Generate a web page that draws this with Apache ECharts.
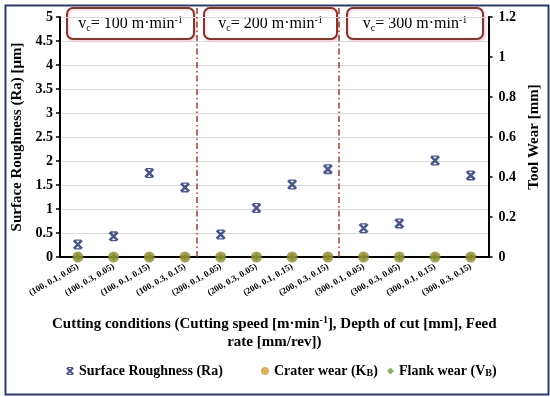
<!DOCTYPE html>
<html>
<head>
<meta charset="utf-8">
<script src="https://cdn.jsdelivr.net/npm/echarts@6/dist/echarts.min.js"></script>
<style>html,body{margin:0;padding:0;background:#fff}#c{width:550px;height:397px}</style>
</head>
<body>
<div id="c"></div>
<script>
var categories = ['(100, 0.1, 0.05)','(100, 0.3, 0.05)','(100, 0.1, 0.15)','(100, 0.3, 0.15)',
                  '(200, 0.1, 0.05)','(200, 0.3, 0.05)','(200, 0.1, 0.15)','(200, 0.3, 0.15)',
                  '(300, 0.1, 0.05)','(300, 0.3, 0.05)','(300, 0.1, 0.15)','(300, 0.3, 0.15)'];
var roughness = [0.26, 0.43, 1.75, 1.45, 0.47, 1.02, 1.51, 1.83, 0.60, 0.70, 2.01, 1.70];
var craterWear = [0,0,0,0,0,0,0,0,0,0,0,0];
var flankWear = [0,0,0,0,0,0,0,0,0,0,0,0];
var dividers = [3.33, 7.31];
var speedLabels = ['100', '200', '300'];

var FONT = 'Liberation Serif';
var xPath = 'path://M0,1.8 L1.8,0 L10,8.2 L8.2,10 Z M8.2,0 L10,1.8 L1.8,10 L0,8.2 Z M1.5,0 L8.5,0 L8.5,1.3 L1.5,1.3 Z M1.5,8.7 L8.5,8.7 L8.5,10 L1.5,10 Z';
var navy = '#1f2d6b';

var chart = echarts.init(document.getElementById('c'));

var boxX = [66, 203, 346], boxW = [127, 133, 136];
var graphics = [{
  type: 'rect', left: 3, top: 3, z: 100,
  shape: {width: 543, height: 389},
  style: {fill: 'none', stroke: '#2e3c6b', lineWidth: 2}
}];
speedLabels.forEach(function (s, i) {
  graphics.push({
    type: 'group', left: boxX[i], top: 7, z: 50,
    children: [
      {type: 'rect', shape: {x: 0, y: 0, width: boxW[i], height: 31, r: 6},
       style: {fill: '#fff', stroke: '#7a3a2c', lineWidth: 2, shadowColor: 'rgba(240,150,180,0.6)', shadowBlur: 3, shadowOffsetX: 1, shadowOffsetY: 1}},
      {type: 'text', x: boxW[i] / 2, y: 16,
       style: {
         text: '{v|v}{sub|c}{t|= ' + s + ' m·min}{sup|-1}',
         align: 'center', verticalAlign: 'middle',
         rich: {
           v: {fontFamily: FONT, fontSize: 16, fill: '#000', lineHeight: 18},
           t: {fontFamily: FONT, fontSize: 16, fill: '#000', lineHeight: 18},
           sub: {fontFamily: FONT, fontSize: 10, fill: '#000', lineHeight: 18, padding: [8, 0, 0, 0]},
           sup: {fontFamily: FONT, fontSize: 10, fill: '#000', lineHeight: 18, padding: [0, 0, 8, 0]}
         }
       }}
    ]
  });
});

var legendText = {fontFamily: FONT, fontWeight: 'bold', fontSize: 14, color: '#000'};
var legendRich = {
  a: {fontFamily: FONT, fontWeight: 'bold', fontSize: 14, color: '#000'},
  s: {fontFamily: FONT, fontWeight: 'bold', fontSize: 10, color: '#000', padding: [5, 0, 0, 0]}
};
function legendFmt(name) {
  if (name === 'Crater wear (KB)') return '{a|Crater wear (K}{s|B}{a|)}';
  if (name === 'Flank wear (VB)') return '{a|Flank wear (V}{s|B}{a|)}';
  return '{a|' + name + '}';
}

chart.setOption({
  animation: false,
  graphic: graphics,
  grid: [
    {left: 60, right: 61, top: 17, bottom: 140},
    {left: 60, right: 61, top: 7, bottom: 140}
  ],
  legend: [
    {left: 61, top: 359, itemWidth: 8, itemHeight: 8, itemGap: 5, textStyle: Object.assign({rich: legendRich}, legendText), formatter: legendFmt,
     data: [{name: 'Surface Roughness (Ra)', icon: xPath, itemStyle: {color: navy}}]},
    {left: 256, top: 359, itemWidth: 8, itemHeight: 8, textStyle: Object.assign({rich: legendRich}, legendText), formatter: legendFmt,
     data: [{name: 'Crater wear (KB)', icon: 'circle', itemStyle: {color: '#d39a3a'}}]},
    {left: 382, top: 359, itemWidth: 7, itemHeight: 7, textStyle: Object.assign({rich: legendRich}, legendText), formatter: legendFmt,
     data: [{name: 'Flank wear (VB)', icon: 'diamond', itemStyle: {color: '#6d9a3c'}}]}
  ],
  xAxis: [{
    type: 'category', data: categories, gridIndex: 0,
    axisLine: {lineStyle: {color: '#000', width: 2}},
    axisTick: {show: false},
    axisLabel: {rotate: 30, fontFamily: FONT, fontWeight: 'bold', fontSize: 9, color: '#000', margin: 9, interval: 0},
    name: '{a|Cutting conditions (Cutting speed [m·min}{sup|-1}{a|], Depth of cut [mm], Feed}\n{a|rate [mm/rev])}',
    nameLocation: 'middle', nameGap: 58,
    nameTextStyle: {
      fontFamily: FONT, fontWeight: 'bold', fontSize: 15, color: '#000', lineHeight: 18,
      rich: {
        a: {fontFamily: FONT, fontWeight: 'bold', fontSize: 15, color: '#000', lineHeight: 18},
        sup: {fontFamily: FONT, fontWeight: 'bold', fontSize: 10, color: '#000', lineHeight: 18, padding: [0, 0, 8, 0]}
      }
    }
  }, {
    type: 'value', gridIndex: 1, min: -0.5, max: 11.5, show: false
  }],
  yAxis: [{
    type: 'value', gridIndex: 0, min: 0, max: 5, interval: 0.5, position: 'left',
    axisLine: {show: true, lineStyle: {color: '#000', width: 2}},
    axisTick: {show: true, length: 4, lineStyle: {color: '#000', width: 1.5}},
    axisLabel: {fontFamily: FONT, fontWeight: 'bold', fontSize: 14, color: '#000', margin: 7},
    splitLine: {lineStyle: {color: '#d9d9d9', width: 1}},
    name: 'Surface Roughness (Ra) [μm]', nameLocation: 'middle', nameGap: 33,
    nameTextStyle: {fontFamily: FONT, fontWeight: 'bold', fontSize: 15, color: '#000'}
  }, {
    type: 'value', gridIndex: 0, min: 0, max: 1.2, interval: 0.2, position: 'right',
    axisLine: {show: true, lineStyle: {color: '#000', width: 2}},
    axisTick: {show: true, length: 4, lineStyle: {color: '#000', width: 1.5}},
    axisLabel: {fontFamily: FONT, fontWeight: 'bold', fontSize: 14, color: '#000', margin: 10},
    splitLine: {show: false},
    name: 'Tool Wear [mm]', nameLocation: 'middle', nameGap: 25,
    nameTextStyle: {fontFamily: FONT, fontWeight: 'bold', fontSize: 15, color: '#000'}
  }, {
    type: 'value', gridIndex: 1, min: 0, max: 1, show: false
  }],
  series: [{
    name: 'Flank wear (VB)', type: 'scatter', xAxisIndex: 0, yAxisIndex: 1, data: flankWear,
    symbol: 'diamond', symbolSize: 8, itemStyle: {color: '#6d9a3c'}, z: 3
  }, {
    name: 'Crater wear (KB)', type: 'scatter', xAxisIndex: 0, yAxisIndex: 1, data: craterWear,
    symbol: 'circle', symbolSize: 11, itemStyle: {color: '#8f8b2e'}, z: 4
  }, {
    name: 'Surface Roughness (Ra)', type: 'scatter', xAxisIndex: 0, yAxisIndex: 0, data: roughness,
    symbol: xPath, symbolSize: 10, itemStyle: {color: navy}, z: 5
  }, {
    name: 'dividers', type: 'scatter', xAxisIndex: 1, yAxisIndex: 2, data: [],
    silent: true,
    markLine: {
      silent: true, symbol: ['none', 'none'], label: {show: false},
      lineStyle: {color: '#9e3b2a', width: 1.5, type: [6, 3, 1.5, 3]},
      data: dividers.map(function (d) { return {xAxis: d}; })
    }
  }]
});
</script>
</body>
</html>
